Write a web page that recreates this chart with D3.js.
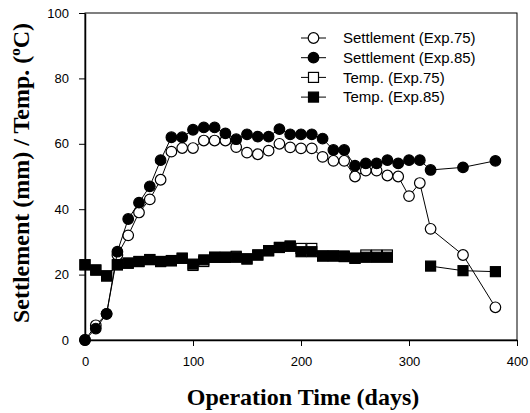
<!DOCTYPE html>
<html>
<head>
<meta charset="utf-8">
<script src="https://cdn.jsdelivr.net/npm/d3@7"></script>
<style>
  body { margin: 0; background: #fff; }
  text { fill: #000; }
</style>
</head>
<body>
<script>
var width = 530;
var height = 413;
var marginLeft = 85;
var marginRight = 13;
var marginTop = 13;
var marginBottom = 73;

// operation days for each series
var daysSettle = [0, 10, 20, 30, 40, 50, 60, 70, 80, 90, 100, 110, 120, 130, 140, 150, 160, 170, 180, 190, 200, 210, 220, 230, 240, 250, 260, 270, 280, 290, 300, 310, 320, 350, 380];
var settle75 = [0, 4.5, 8, 26, 32, 39, 43, 49, 57.6, 58.7, 58.7, 61, 61, 61, 59, 57.3, 56.8, 57.9, 60, 58.9, 58.6, 58.6, 56, 54.8, 54.8, 50, 51.8, 51.8, 50.3, 50, 44, 48, 34, 26, 10];
var settle85 = [0, 3.5, 8, 27, 37, 42, 47, 55, 62, 62, 64.3, 65, 65, 63.2, 61.4, 62.9, 62.2, 62.2, 64.5, 62.9, 62.9, 62.9, 61.6, 58.1, 58.1, 53.3, 54, 54, 55, 54, 55, 55, 52, 52.8, 54.8];

var daysTemp75 = [0, 10, 20, 30, 40, 50, 60, 70, 80, 90, 100, 110, 120, 130, 140, 150, 160, 170, 180, 190, 200, 210, 220, 230, 240, 250, 260, 270, 280];
var temp75 = [23, 21.4, 19.6, 23, 23.5, 24, 24.6, 24, 24.2, 25, 22.8, 24, 25.3, 25.3, 25.6, 24.8, 26, 27.3, 28.3, 28.7, 28, 28, 25.7, 25.7, 25.5, 25, 26, 26, 26];
// null = no reading (line is broken there)
var daysTemp85 = [0, 10, 20, 30, 40, 50, 60, 70, 80, 90, 100, 110, 120, 130, 140, 150, 160, 170, 180, 190, 200, 210, 220, 230, 240, 250, 260, 270, 280, 300, 320, 350, 380];
var temp85 = [23, 21.4, 19.6, 23, 23.5, 24, 24.6, 24, 24.3, 25, 23.2, 24.5, 25.3, 25.3, 25.3, 24.8, 26, 27.3, 28.3, 28.7, 27, 27, 25.7, 25.7, 25.7, 25, 25.3, 25.3, 25.3, null, 22.6, 21.2, 20.9];

var xTicks = [0, 100, 200, 300, 400];
var yTicks = [0, 20, 40, 60, 80, 100];

var legendLabels = ["Settlement (Exp.75)", "Settlement (Exp.85)", "Temp. (Exp.75)", "Temp. (Exp.85)"];

var series = [
  { name: legendLabels[0], x: daysSettle, y: settle75, shape: "circle", fill: "#fff" },
  { name: legendLabels[1], x: daysSettle, y: settle85, shape: "circle", fill: "#000" },
  { name: legendLabels[2], x: daysTemp75, y: temp75, shape: "square", fill: "#fff" },
  { name: legendLabels[3], x: daysTemp85, y: temp85, shape: "square", fill: "#000" }
];

var svg = d3.select("body")
            .append("svg")
            .attr("width", width)
            .attr("height", height);

var xScale = d3.scaleLinear()
      .domain([0, 400])
      .range([marginLeft, width - marginRight]);

var yScale = d3.scaleLinear()
      .domain([0, 100])
      .range([height - marginBottom, marginTop]);

// frame
svg.append("rect")
   .attr("x", xScale(0))
   .attr("y", yScale(100))
   .attr("width", xScale(400) - xScale(0))
   .attr("height", yScale(0) - yScale(100))
   .attr("fill", "none")
   .attr("stroke", "#000")
   .attr("stroke-width", 1);

var xAxis = d3.axisBottom(xScale)
              .tickValues(xTicks)
              .tickSize(6)
              .tickSizeOuter(0);

var yAxis = d3.axisLeft(yScale)
              .tickValues(yTicks)
              .tickSize(6)
              .tickSizeOuter(0);

svg.append("g")
   .attr("transform", `translate(0,${yScale(0)})`)
   .call(xAxis)
   .call(g => g.select(".domain").attr("stroke-width", 1.5))
   .call(g => g.selectAll("text")
      .attr("y", 17)
      .style("font", "13px 'Liberation Sans', Arial, sans-serif"));

svg.append("g")
   .attr("transform", `translate(${xScale(0)},0)`)
   .call(yAxis)
   .call(g => g.select(".domain").attr("stroke-width", 1.5))
   .call(g => g.selectAll("text")
      .attr("x", -16)
      .style("font", "13px 'Liberation Sans', Arial, sans-serif"));

// axis titles
svg.append("text")
   .attr("x", 303)
   .attr("y", 405)
   .attr("text-anchor", "middle")
   .style("font", "bold 24px 'Liberation Serif', 'Times New Roman', serif")
   .text("Operation Time (days)");

var yTitle = svg.append("text")
   .attr("transform", "translate(29,173) rotate(-90)")
   .attr("text-anchor", "middle")
   .style("font", "bold 24px 'Liberation Serif', 'Times New Roman', serif");
yTitle.append("tspan").text("Settlement (mm) / Temp. (");
yTitle.append("tspan").attr("dy", -9).style("font-size", "15px").text("o");
yTitle.append("tspan").attr("dy", 9).text("C)");

function drawMarker(g, shape, fill, cx, cy) {
  if (shape === "circle") {
    g.append("circle")
     .attr("cx", cx).attr("cy", cy).attr("r", 5.3)
     .attr("fill", fill).attr("stroke", "#000").attr("stroke-width", 1.2);
  } else {
    g.append("rect")
     .attr("x", cx - 5).attr("y", cy - 5)
     .attr("width", 10).attr("height", 10)
     .attr("fill", fill).attr("stroke", "#000").attr("stroke-width", 1.2);
  }
}

var line = d3.line()
      .defined(d => d[1] != null)
      .x(d => xScale(d[0]))
      .y(d => yScale(d[1]));

series.forEach(function(s) {
  var pts = s.x.map((d, i) => [d, s.y[i]]);
  var g = svg.append("g");
  g.append("path")
   .attr("d", line(pts))
   .attr("fill", "none")
   .attr("stroke", "#000")
   .attr("stroke-width", 1);
  pts.filter(p => p[1] != null).forEach(function(p) {
    drawMarker(g, s.shape, s.fill, xScale(p[0]), yScale(p[1]));
  });
});

// legend
var legend = svg.append("g");
series.forEach(function(s, i) {
  var ly = 38 + i * 19.7;
  legend.append("line")
        .attr("x1", 301).attr("x2", 326)
        .attr("y1", ly).attr("y2", ly)
        .attr("stroke", "#000");
  drawMarker(legend, s.shape, s.fill, 313.5, ly);
  legend.append("text")
        .attr("x", 343)
        .attr("y", ly)
        .attr("dy", "0.35em")
        .style("font", "15px 'Liberation Sans', Arial, sans-serif")
        .text(s.name);
});
</script>
</body>
</html>
